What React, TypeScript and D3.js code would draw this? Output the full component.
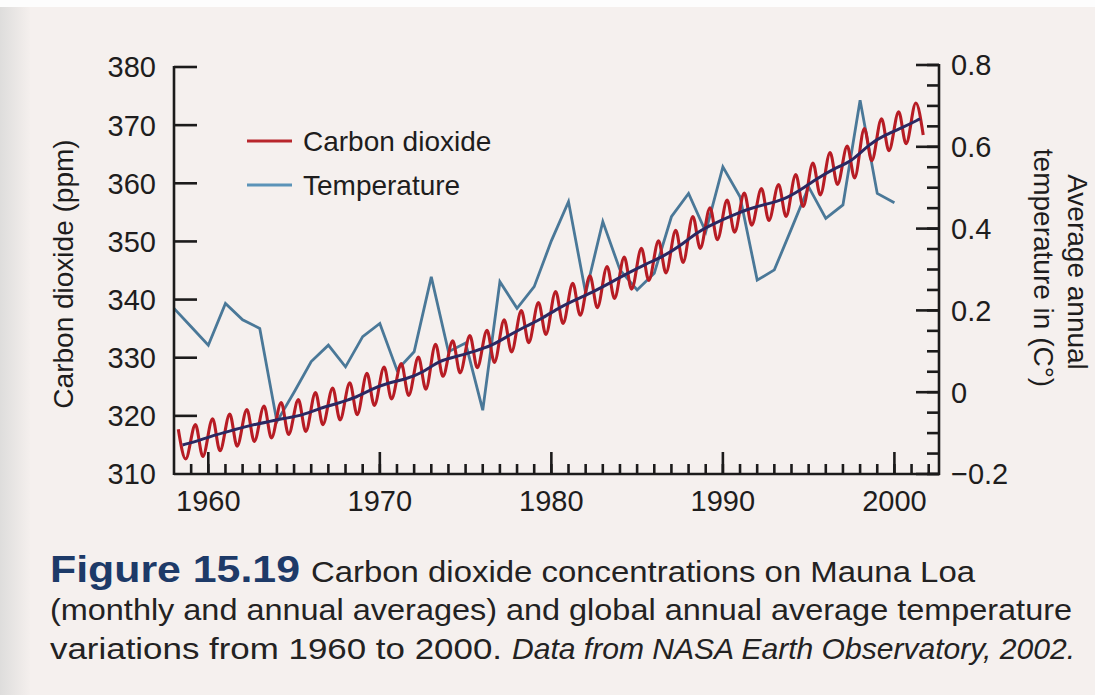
import React from 'react';
import * as d3 from 'd3';

// ---------- DATA ----------
const co2Years = [1958, 1959, 1960, 1961, 1962, 1963, 1964, 1965, 1966, 1967, 1968, 1969, 1970, 1971, 1972, 1973, 1974, 1975, 1976, 1977, 1978, 1979, 1980, 1981, 1982, 1983, 1984, 1985, 1986, 1987, 1988, 1989, 1990, 1991, 1992, 1993, 1994, 1995, 1996, 1997, 1998, 1999, 2000, 2001];
// annual average CO2 (ppm)
const co2Annual = [315.0, 315.8, 316.8, 317.6, 318.4, 319.0, 319.6, 320.1, 321.3, 322.1, 323.0, 324.6, 325.7, 326.3, 327.4, 329.6, 330.2, 331.1, 332.0, 333.8, 335.4, 336.8, 338.7, 340.1, 341.4, 343.0, 344.6, 346.1, 347.4, 349.2, 351.6, 353.1, 354.4, 355.6, 356.4, 357.1, 358.8, 360.8, 362.6, 363.7, 366.7, 368.4, 369.6, 371.1];
// monthly series: spring maximum and autumn minimum each year (ppm)
const co2Peak = [317.7, 318.5, 319.5, 320.3, 321.1, 321.7, 322.3, 322.8, 324.0, 324.8, 325.7, 327.3, 328.4, 329.0, 330.1, 332.3, 332.9, 333.8, 334.7, 336.5, 338.1, 339.5, 341.4, 342.8, 344.1, 345.7, 347.3, 348.8, 350.1, 351.9, 354.3, 355.8, 357.1, 358.3, 359.1, 359.8, 361.5, 363.5, 365.3, 366.4, 369.4, 371.1, 372.3, 373.8];
const co2Trough = [312.6, 313.0, 314.0, 314.8, 315.6, 316.2, 316.8, 317.3, 318.5, 319.3, 320.2, 321.8, 322.9, 323.5, 324.6, 326.8, 327.4, 328.3, 329.2, 331.0, 332.6, 334.0, 335.9, 337.3, 338.6, 340.2, 341.8, 343.3, 344.6, 346.4, 348.8, 350.3, 351.6, 352.8, 353.6, 354.3, 356.0, 358.0, 359.8, 360.9, 363.9, 365.6, 366.8, 368.3];
const PEAK_FRAC = 0.25;
const TROUGH_FRAC = 0.68;
const ANNUAL_FRAC = 0.5;

const tempYears = [1958, 1959, 1960, 1961, 1962, 1963, 1964, 1965, 1966, 1967, 1968, 1969, 1970, 1971, 1972, 1973, 1974, 1975, 1976, 1977, 1978, 1979, 1980, 1981, 1982, 1983, 1984, 1985, 1986, 1987, 1988, 1989, 1990, 1991, 1992, 1993, 1994, 1995, 1996, 1997, 1998, 1999, 2000];
// global annual average temperature anomaly (°C)
const tempValues = [0.205, 0.16, 0.115, 0.217, 0.177, 0.156, -0.072, 0.0, 0.075, 0.115, 0.062, 0.136, 0.168, 0.054, 0.099, 0.282, 0.099, 0.12, -0.044, 0.27, 0.205, 0.258, 0.37, 0.466, 0.242, 0.417, 0.299, 0.25, 0.291, 0.429, 0.486, 0.392, 0.551, 0.478, 0.274, 0.299, 0.40, 0.502, 0.425, 0.458, 0.714, 0.486, 0.463];

const leftTicks = [310, 320, 330, 340, 350, 360, 370, 380];
const rightMajorTicks = [-0.2, 0, 0.2, 0.4, 0.6, 0.8];
const rightTickLabels = ['\u22120.2', '0', '0.2', '0.4', '0.6', '0.8'];
const xMajorTicks = [1960, 1970, 1980, 1990, 2000];

const legendItems = [
  { label: 'Carbon dioxide', color: '#b8262c' },
  { label: 'Temperature', color: '#5b93b8' },
];

// ---------- STYLE ----------
const W = 1095;
const H = 695;
const FONT = "'Liberation Sans', Arial, Helvetica, sans-serif";
const AXIS = '#1c1b1b';
const RED = '#b71c24';
const NAVY = '#2b2862';
const BLUE = '#4a7898';

export default function App() {
  const x = d3.scaleLinear().domain([1958, 2002.6]).range([174, 939]);
  const yL = d3.scaleLinear().domain([310, 380]).range([474, 67]);
  const yR = d3.scaleLinear().domain([-0.2, 0.8]).range([474, 65]);

  const monthly: [number, number][] = [];
  co2Years.forEach((yr, i) => {
    monthly.push([yr + PEAK_FRAC, co2Peak[i]]);
    monthly.push([yr + TROUGH_FRAC, co2Trough[i]]);
  });
  const redPath = d3
    .line<[number, number]>()
    .x((d) => x(d[0]))
    .y((d) => yL(d[1]))
    .curve(d3.curveMonotoneX)(monthly) as string;

  const annualPath = d3
    .line<number>()
    .x((_, i) => x(co2Years[i] + ANNUAL_FRAC))
    .y((d) => yL(d))
    .curve(d3.curveBasis)(co2Annual) as string;

  const tempPath = d3
    .line<number>()
    .x((_, i) => x(tempYears[i]))
    .y((d) => yR(d))(tempValues) as string;

  const [x0, x1] = x.range();
  const yBottom = yL(310);

  const rightMinor = d3.range(0, 21).map((i) => -0.2 + i * 0.05);
  const xMinor = d3.range(1959, 2003);

  return (
    <svg
      width={W}
      height={H}
      viewBox={`0 0 ${W} ${H}`}
      style={{ position: 'absolute', left: 0, top: 0, display: 'block' }}
    >
      <defs>
        <linearGradient id="edge" x1="0" x2="1" y1="0" y2="0">
          <stop offset="0" stopColor="#dedddc" />
          <stop offset="1" stopColor="#f4efed" />
        </linearGradient>
      </defs>
      <rect x={0} y={0} width={W} height={H} fill="#f5f0ee" />
      <rect x={0} y={0} width={30} height={H} fill="url(#edge)" />
      <rect x={0} y={0} width={W} height={7} fill="#fdfdfd" />

      {/* data lines */}
      <path d={tempPath} fill="none" stroke={BLUE} strokeWidth={2.8} strokeLinejoin="miter" />
      <path d={redPath} fill="none" stroke={RED} strokeWidth={3.1} />
      <path d={annualPath} fill="none" stroke={NAVY} strokeWidth={3} />

      {/* axes */}
      <g stroke={AXIS} strokeWidth={2.6} fill="none">
        <line x1={x0} y1={yL(380) - 1} x2={x0} y2={yBottom + 1} />
        <line x1={x0} y1={yBottom} x2={x1 + 1} y2={yBottom} />
        <line x1={x1} y1={yR(0.8) - 1} x2={x1} y2={yBottom + 1} />
        {leftTicks.slice(1).map((t) => (
          <line key={'lt' + t} x1={x0} x2={x0 + 23} y1={yL(t)} y2={yL(t)} />
        ))}
        {rightMinor.map((t, i) => (
          <line key={'rm' + i} x1={x1} x2={x1 - 12} y1={yR(t)} y2={yR(t)} />
        ))}
        {rightMajorTicks.map((t) => (
          <line key={'rM' + t} x1={x1} x2={x1 - 23} y1={yR(t)} y2={yR(t)} />
        ))}
        {xMinor.map((t) => (
          <line key={'xm' + t} x1={x(t)} x2={x(t)} y1={yBottom} y2={yBottom - 10} />
        ))}
        {xMajorTicks.map((t) => (
          <line key={'xM' + t} x1={x(t)} x2={x(t)} y1={yBottom} y2={yBottom - 22} />
        ))}
      </g>

      {/* tick labels */}
      <g fontFamily={FONT} fontSize={29} fill="#1e1d1d">
        {leftTicks.map((t) => (
          <text key={'ll' + t} x={156} y={yL(t)} dy="0.36em" textAnchor="end">
            {t}
          </text>
        ))}
        {rightMajorTicks.map((t, i) => (
          <text key={'rl' + t} x={951} y={yR(t)} dy="0.36em" textAnchor="start">
            {rightTickLabels[i]}
          </text>
        ))}
        {xMajorTicks.map((t) => (
          <text key={'xl' + t} x={x(t)} y={511} textAnchor="middle">
            {t}
          </text>
        ))}
      </g>
      <g fontFamily={FONT} fontSize={28} fill="#1e1d1d">
        <text transform="translate(73,274) rotate(-90)" textAnchor="middle">
          Carbon dioxide (ppm)
        </text>
        <text transform="translate(1068,272) rotate(90)" textAnchor="middle">
          Average annual
        </text>
        <text transform="translate(1034,268) rotate(90)" textAnchor="middle">
          temperature in (C°)
        </text>
      </g>

      {/* legend */}
      <g fontFamily={FONT} fontSize={28} fill="#1e1d1d">
        {legendItems.map((it, i) => (
          <g key={it.label} transform={`translate(0, ${i * 44})`}>
            <line x1={247} x2={292} y1={141} y2={141} stroke={it.color} strokeWidth={3} />
            <text x={303} y={151}>
              {it.label}
            </text>
          </g>
        ))}
      </g>

      {/* caption */}
      <g fontFamily={FONT} fill="#232222">
        <text x={50} y={582} fontSize={36} fontWeight="bold" fill="#1d3a68" textLength={250} lengthAdjust="spacingAndGlyphs">
          Figure 15.19
        </text>
        <text x={311} y={582} fontSize={30} textLength={664} lengthAdjust="spacingAndGlyphs">
          Carbon dioxide concentrations on Mauna Loa
        </text>
        <text x={50} y={620} fontSize={30} textLength={1022} lengthAdjust="spacingAndGlyphs">
          (monthly and annual averages) and global annual average temperature
        </text>
        <text x={50} y={659} fontSize={30} textLength={452} lengthAdjust="spacingAndGlyphs">
          variations from 1960 to 2000.
        </text>
        <text x={512} y={659} fontSize={30} fontStyle="italic" textLength={563} lengthAdjust="spacingAndGlyphs">
          Data from NASA Earth Observatory, 2002.
        </text>
      </g>
    </svg>
  );
}
